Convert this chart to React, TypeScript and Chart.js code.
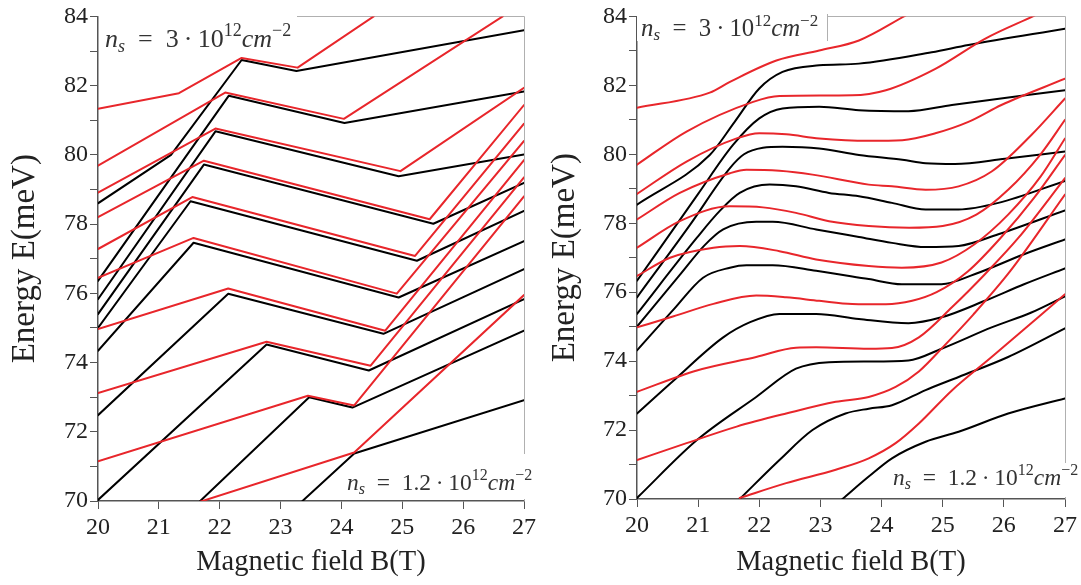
import React, { useEffect, useRef } from "react";
import { Chart, registerables } from "chart.js";

Chart.register(...registerables);

type Pt = [number, number];

// ---------- axes ----------
const X_TICKS = [20, 21, 22, 23, 24, 25, 26, 27];
const Y_LABELED_TICKS = [70, 72, 74, 76, 78, 80, 82, 84];
const X_TITLE = "Magnetic field B(T)";
const Y_TITLE = "Energy E(meV)";

// ---------- left panel (piecewise) : black levels ----------
const LB1: Pt[] = [[20, 78.6], [21.2, 80.0], [22.36, 82.74], [23.26, 82.42], [27, 83.6]];
const LB2: Pt[] = [[20, 76.36], [22.15, 81.71], [24.05, 80.92], [27, 81.83]];
const LB3: Pt[] = [[20, 75.83], [21.93, 80.68], [24.94, 79.38], [27, 80.01]];
const LB4: Pt[] = [[20, 75.4], [21.74, 79.72], [25.51, 78.01], [27, 79.19]];
const LB5: Pt[] = [[20, 75.0], [21.52, 78.66], [25.24, 76.94], [27, 78.38]];
const LB6: Pt[] = [[20, 74.34], [21.57, 77.46], [24.94, 75.88], [27, 77.51]];
const LB7: Pt[] = [[20, 72.48], [22.14, 75.99], [24.69, 74.83], [27, 76.7]];
const LB8: Pt[] = [[20, 70.03], [22.77, 74.52], [24.45, 73.77], [27, 75.83]];
const LB9: Pt[] = [[21.68, 70.0], [23.47, 73.0], [24.18, 72.7], [27, 74.92]];
const LB10: Pt[] = [[23.36, 70.0], [24.21, 71.37], [27, 72.91]];

// ---------- left panel : red levels ----------
const LR1: Pt[] = [[20, 81.33], [21.33, 81.78], [22.36, 82.8], [23.28, 82.52], [24.53, 84.0]];
const LR2: Pt[] = [[20, 79.69], [22.09, 81.8], [24.04, 81.04], [26.65, 84.0]];
const LR3: Pt[] = [[20, 78.91], [21.93, 80.76], [24.97, 79.53], [27, 81.94]];
const LR4: Pt[] = [[20, 78.2], [21.74, 79.83], [25.45, 78.14], [27, 81.44]];
const LR5: Pt[] = [[20, 77.28], [21.55, 78.78], [25.21, 77.08], [27, 80.9]];
const LR6: Pt[] = [[20, 76.45], [21.57, 77.6], [24.91, 75.99], [27, 80.4]];
const LR7: Pt[] = [[20, 74.97], [22.14, 76.14], [24.72, 74.92], [27, 79.85]];
const LR8: Pt[] = [[20, 73.12], [22.77, 74.6], [24.48, 73.91], [27, 79.35]];
const LR9: Pt[] = [[20, 71.15], [23.45, 73.04], [24.21, 72.76], [27, 78.8]];
const LR10: Pt[] = [[21.68, 69.98], [24.21, 71.4], [27, 75.95]];

// ---------- right panel (smooth) : black levels ----------
const RB1: Pt[] = [[20, 78.54], [21.19, 79.98], [21.6, 80.95], [22.0, 81.91], [22.38, 82.39], [22.98, 82.58], [23.63, 82.63], [24.82, 82.96], [25.42, 83.17], [27, 83.64]];
const RB2: Pt[] = [[20, 76.33], [21.0, 78.85], [21.57, 80.27], [22.0, 81.04], [22.38, 81.33], [22.98, 81.38], [23.63, 81.28], [24.44, 81.25], [25.15, 81.43], [27, 81.86]];
const RB3: Pt[] = [[20, 75.85], [20.87, 77.96], [21.52, 79.6], [21.75, 80.0], [22.06, 80.19], [22.38, 80.22], [22.98, 80.17], [23.63, 79.98], [24.34, 79.84], [24.72, 79.74], [25.2, 79.72], [26.02, 79.87], [27, 80.08]];
const RB4: Pt[] = [[20, 75.37], [20.98, 77.58], [21.35, 78.35], [21.68, 78.88], [22.17, 79.12], [22.6, 79.07], [23.14, 78.88], [23.63, 78.78], [24.17, 78.59], [24.72, 78.4], [25.26, 78.4], [25.91, 78.59], [27, 79.23]];
const RB5: Pt[] = [[20, 75.0], [20.7, 76.5], [21.1, 77.35], [21.41, 77.82], [21.95, 78.04], [22.22, 78.04], [22.93, 77.82], [23.63, 77.6], [24.17, 77.43], [24.72, 77.31], [25.26, 77.34], [25.91, 77.68], [27, 78.37]];
const RB6: Pt[] = [[20, 74.31], [20.6, 75.5], [21.08, 76.42], [21.52, 76.71], [21.79, 76.78], [22.22, 76.78], [22.93, 76.62], [23.79, 76.38], [24.33, 76.23], [24.98, 76.23], [25.52, 76.52], [26.33, 77.1], [27, 77.53]];
const RB7: Pt[] = [[20, 72.48], [20.6, 73.44], [21.41, 74.69], [21.85, 75.13], [22.33, 75.37], [22.93, 75.37], [23.63, 75.22], [24.44, 75.1], [24.98, 75.27], [25.69, 75.75], [26.33, 76.23], [27, 76.69]];
const RB8: Pt[] = [[20, 70.03], [20.98, 71.71], [21.95, 72.96], [22.6, 73.78], [23.14, 73.97], [23.79, 73.99], [24.44, 74.02], [24.98, 74.36], [25.8, 74.98], [26.45, 75.41], [27, 75.88]];
const RB9: Pt[] = [[21.68, 70.0], [22.33, 71.13], [22.87, 72.0], [23.41, 72.48], [23.79, 72.62], [24.17, 72.72], [24.72, 73.16], [25.26, 73.54], [26.07, 74.12], [27, 74.95]];
const RB10: Pt[] = [[23.36, 70.0], [23.79, 70.65], [24.17, 71.18], [24.72, 71.66], [25.26, 71.95], [26.07, 72.48], [27, 72.92]];

// ---------- right panel : red levels ----------
const RR1: Pt[] = [[20, 81.35], [21.19, 81.79], [21.52, 82.1], [22.28, 82.72], [22.98, 83.01], [23.63, 83.3], [24.39, 84.02]];
const RR2: Pt[] = [[20, 79.7], [20.81, 80.66], [21.9, 81.52], [22.33, 81.69], [23.52, 81.71], [24.07, 81.86], [24.88, 82.48], [25.69, 83.35], [26.5, 84.02]];
const RR3: Pt[] = [[20, 78.85], [20.81, 79.79], [21.63, 80.46], [22.0, 80.61], [22.44, 80.58], [22.98, 80.46], [23.79, 80.39], [24.34, 80.41], [24.88, 80.61], [25.42, 80.94], [25.96, 81.43], [27, 82.19]];
const RR4: Pt[] = [[20, 78.11], [20.7, 78.88], [21.52, 79.45], [21.79, 79.55], [22.33, 79.52], [22.87, 79.41], [23.79, 79.12], [24.17, 79.07], [24.72, 78.97], [25.26, 79.07], [25.8, 79.5], [26.45, 80.56], [27, 81.62]];
const RR5: Pt[] = [[20, 77.29], [20.7, 78.06], [21.52, 78.49], [22.06, 78.46], [22.6, 78.3], [23.14, 78.06], [23.79, 77.92], [24.45, 77.87], [25.0, 77.92], [25.55, 78.25], [26.07, 78.97], [26.6, 80.0], [27, 81.0]];
const RR6: Pt[] = [[20, 76.47], [20.54, 77.0], [21.25, 77.29], [21.68, 77.34], [22.33, 77.19], [22.93, 76.95], [23.79, 76.76], [24.33, 76.71], [24.98, 76.86], [25.52, 77.39], [26.07, 78.25], [26.6, 79.35], [27, 80.46]];
const RR7: Pt[] = [[20, 74.98], [20.6, 75.3], [21.25, 75.66], [21.95, 75.9], [22.44, 75.85], [22.98, 75.75], [23.52, 75.66], [24.07, 75.65], [24.5, 75.75], [24.9, 76.0], [25.41, 76.6], [25.96, 77.6], [26.5, 78.75], [27, 79.98]];
const RR8: Pt[] = [[20, 73.11], [20.98, 73.73], [21.95, 74.12], [22.6, 74.39], [22.93, 74.4], [23.79, 74.36], [24.17, 74.38], [24.61, 74.69], [25.15, 75.56], [25.69, 76.52], [26.24, 77.58], [27, 79.31]];
const RR9: Pt[] = [[20, 71.13], [20.81, 71.62], [21.63, 72.1], [22.44, 72.48], [23.25, 72.82], [23.79, 72.96], [24.23, 73.25], [24.61, 73.7], [25.0, 74.4], [25.5, 75.35], [26.1, 76.6], [27, 78.83]];
const RR10: Pt[] = [[21.68, 70.03], [22.44, 70.46], [23.25, 70.85], [23.79, 71.18], [24.23, 71.62], [24.61, 72.19], [25.15, 73.15], [25.8, 74.12], [27, 75.94]];

const LEFT_BLACK = [LB1, LB2, LB3, LB4, LB5, LB6, LB7, LB8, LB9, LB10];
const LEFT_RED = [LR1, LR2, LR3, LR4, LR5, LR6, LR7, LR8, LR9, LR10];
const RIGHT_BLACK = [RB1, RB2, RB3, RB4, RB5, RB6, RB7, RB8, RB9, RB10];
const RIGHT_RED = [RR1, RR2, RR3, RR4, RR5, RR6, RR7, RR8, RR9, RR10];

// ---------- annotation texts ----------
const DENSITY_HIGH = { mant: "3", exp: "12", unitExp: "\u22122" };
const DENSITY_LOW = { mant: "1.2", exp: "12", unitExp: "\u22122" };

// ---------- styling ----------
const FONT = '"Liberation Serif", "Times New Roman", serif';
const RED = "#e8262b";
const BLACK = "#000000";

type Geom = {
  left: number;
  width: number;
  padRight: number;
  padTop: number;
  yAxisWidth: number;
  xAxisHeight: number;
  topBox: [number, number, number, number];
  topText: [number, number];
  topSize: number;
  topBoxEdge: boolean;
  botBox: [number, number, number, number];
  botText: [number, number];
  botSize: number;
};

const LEFT_GEOM: Geom = {
  left: 0,
  width: 540,
  padRight: 12,
  padTop: 14,
  yAxisWidth: 98,
  xAxisHeight: 84,
  topBox: [99, 16, 198, 40],
  topText: [105, 47],
  topSize: 26,
  topBoxEdge: false,
  botBox: [358, 454, 182, 45],
  botText: [347, 490],
  botSize: 23.5,
};

const RIGHT_GEOM: Geom = {
  left: 540,
  width: 541,
  padRight: 14,
  padTop: 14,
  yAxisWidth: 97,
  xAxisHeight: 86,
  topBox: [97, 2, 190, 39],
  topText: [101, 36],
  topSize: 24.8,
  topBoxEdge: true,
  botBox: [350, 463, 191, 34],
  botText: [353, 485],
  botSize: 23.5,
};

function drawDensity(
  ctx: CanvasRenderingContext2D,
  x: number,
  y: number,
  d: { mant: string; exp: string; unitExp: string },
  big: number
) {
  const small = Math.round(big * 0.68);
  const segs: { t: string; it?: boolean; s: number; dy: number }[] = [
    { t: "n", it: true, s: big, dy: 0 },
    { t: "s", it: true, s: small, dy: big * 0.18 },
    { t: "\u2002=\u2002" + d.mant + "\u2009\u00b7\u200910", s: big, dy: 0 },
    { t: d.exp, s: small, dy: -big * 0.42 },
    { t: "cm", it: true, s: big, dy: 0 },
    { t: d.unitExp, s: small, dy: -big * 0.42 },
  ];
  ctx.save();
  ctx.fillStyle = "#333";
  ctx.textBaseline = "alphabetic";
  ctx.textAlign = "left";
  let cx = x;
  for (const sg of segs) {
    ctx.font = `${sg.it ? "italic " : ""}${sg.s}px ${FONT}`;
    ctx.fillText(sg.t, cx, y + sg.dy);
    cx += ctx.measureText(sg.t).width;
  }
  ctx.restore();
}

function makePlugin(g: Geom) {
  return {
    id: "frameAndNotes",
    beforeDatasetsDraw(chart: any) {
      const { ctx, chartArea: a } = chart;
      ctx.save();
      ctx.strokeStyle = "#b0b0b0";
      ctx.lineWidth = 1;
      ctx.beginPath();
      ctx.moveTo(a.left, Math.round(a.top) + 0.5);
      ctx.lineTo(Math.round(a.right) + 0.5, Math.round(a.top) + 0.5);
      ctx.lineTo(Math.round(a.right) + 0.5, a.bottom);
      ctx.stroke();
      ctx.restore();
    },
    afterDatasetsDraw(chart: any) {
      const { ctx } = chart;
      ctx.save();
      ctx.fillStyle = "#ffffff";
      ctx.fillRect(...g.topBox);
      ctx.fillRect(...g.botBox);
      if (g.topBoxEdge) {
        ctx.strokeStyle = "#b0b0b0";
        ctx.lineWidth = 1;
        const xe = Math.round(g.topBox[0] + g.topBox[2]) + 0.5;
        ctx.beginPath();
        ctx.moveTo(xe, 14);
        ctx.lineTo(xe, g.topBox[1] + g.topBox[3]);
        ctx.stroke();
      }
      ctx.restore();
      drawDensity(ctx, g.topText[0], g.topText[1], DENSITY_HIGH, g.topSize);
      drawDensity(ctx, g.botText[0], g.botText[1], DENSITY_LOW, g.botSize);
    },
  };
}

function Panel({ black, red, smooth, g }: { black: Pt[][]; red: Pt[][]; smooth: boolean; g: Geom }) {
  const ref = useRef<HTMLCanvasElement | null>(null);
  useEffect(() => {
    if (!ref.current) return;
    const mk = (line: Pt[], color: string) => ({
      data: line.map(([x, y]) => ({ x, y })),
      borderColor: color,
      backgroundColor: color,
      borderWidth: 2,
      pointRadius: 0,
      fill: false,
      tension: 0,
      cubicInterpolationMode: smooth ? "monotone" : "default",
      borderJoinStyle: "round",
      borderCapStyle: "round",
    });
    const datasets = [...red.map((l) => mk(l, RED)), ...black.map((l) => mk(l, BLACK))];
    const axisColor = "#555";
    const chart = new Chart(ref.current, {
      type: "line",
      data: { datasets } as any,
      plugins: [makePlugin(g)],
      options: {
        responsive: false,
        animation: false,
        events: [],
        layout: { padding: { left: 0, right: g.padRight, top: g.padTop, bottom: 0 } },
        plugins: { legend: { display: false }, tooltip: { enabled: false } },
        scales: {
          x: {
            type: "linear",
            min: X_TICKS[0],
            max: X_TICKS[X_TICKS.length - 1],
            afterBuildTicks: (s: any) => {
              s.ticks = X_TICKS.map((v) => ({ value: v }));
            },
            afterFit: (s: any) => {
              s.height = g.xAxisHeight;
            },
            ticks: {
              autoSkip: false,
              maxRotation: 0,
              padding: 4,
              color: "#222",
              font: { family: FONT, size: 24 },
              callback: (v: any) => String(v),
            },
            grid: { drawOnChartArea: false, drawTicks: true, tickLength: 8, color: axisColor, lineWidth: 1 },
            border: { display: true, color: axisColor, width: 1.5 },
            title: {
              display: true,
              text: X_TITLE,
              color: "#222",
              font: { family: FONT, size: 28.5 },
              padding: { top: 0, bottom: 5 },
            },
          },
          y: {
            type: "linear",
            min: 70,
            max: 84,
            afterFit: (s: any) => {
              s.width = g.yAxisWidth;
            },
            ticks: {
              stepSize: 1,
              autoSkip: false,
              padding: 2,
              color: "#222",
              font: { family: FONT, size: 24 },
              callback: (v: any) => (Y_LABELED_TICKS.includes(Number(v)) ? String(v) : ""),
            },
            grid: { drawOnChartArea: false, drawTicks: true, tickLength: 8, color: axisColor, lineWidth: 1 },
            border: { display: true, color: axisColor, width: 1.5 },
            title: {
              display: true,
              text: Y_TITLE,
              color: "#222",
              font: { family: FONT, size: 33 },
              padding: { top: 6, bottom: 0 },
            },
          },
        },
      } as any,
    });
    return () => chart.destroy();
  }, []);
  return (
    <canvas
      ref={ref}
      width={g.width}
      height={585}
      style={{ position: "absolute", left: g.left, top: 0, width: g.width, height: 585 }}
    />
  );
}

export default function App() {
  return (
    <div style={{ position: "fixed", left: 0, top: 0, width: 1081, height: 585, background: "#fff", overflow: "hidden" }}>
      <Panel black={LEFT_BLACK} red={LEFT_RED} smooth={false} g={LEFT_GEOM} />
      <Panel black={RIGHT_BLACK} red={RIGHT_RED} smooth={true} g={RIGHT_GEOM} />
    </div>
  );
}
